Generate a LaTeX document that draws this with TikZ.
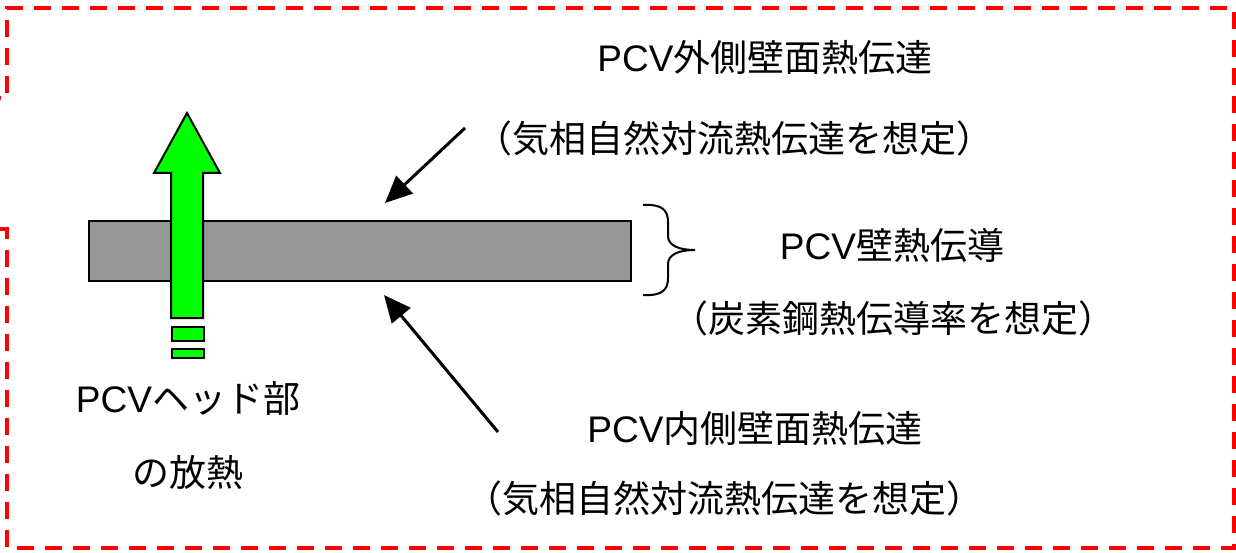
\documentclass[tikz,border=0pt]{standalone}
\usepackage{fontspec}
\setmainfont{Noto Sans CJK JP}
\newfontfamily\lat{Liberation Sans}
\usetikzlibrary{arrows.meta}
\definecolor{brgreen}{RGB}{0,255,0}
\definecolor{bargray}{RGB}{150,150,150}
\tikzset{
  lbl/.style={inner sep=0pt, font=\fontsize{37}{40}\selectfont},
  redframe/.style={draw=red, line width=3.6pt, dash pattern=on 17pt off 11pt},
  heatarrow/.style={line width=3pt, -{Triangle[length=27pt,width=24pt]}},
  outline/.style={draw=black, line width=2pt}
}
\begin{document}
\begin{tikzpicture}[x=1pt,y=-1pt]
\useasboundingbox (0,0) rectangle (1236,553);
% red dashed frame
\draw[redframe] (0,229) -- (7,229) -- (7,548) -- (1234,548) -- (1234,8) -- (7,8) -- (7,98) -- (0,98);
% PCV wall
\node[outline, fill=bargray, minimum width=542pt, minimum height=60pt, inner sep=0pt, anchor=north west] (wall) at (88,220) {};
% green heat arrow
\filldraw[fill=brgreen, draw=black, line width=2pt] (171,318) -- (171,173) -- (154,173) -- (187,113) -- (220,173) -- (203,173) -- (203,318) -- cycle;
\node[outline, fill=brgreen, minimum width=32pt, minimum height=14pt, inner sep=0pt, anchor=north west] (g1) at (171,326) {};
\node[outline, fill=brgreen, minimum width=32pt, minimum height=9pt, inner sep=0pt, anchor=north west] (g2) at (171,348) {};
% brace
\draw[line width=2pt] (643,205) .. controls (662,204) and (668,210) .. (668,222) -- (668,236) .. controls (668,246) and (680,250) .. (695,250)
  .. controls (680,250) and (668,254) .. (668,264) -- (668,278) .. controls (668,290) and (662,296) .. (643,295);
% labels
\node[lbl] (t1) at (765,57) {{\lat PCV}外側壁面熱伝達};
\node[lbl] (t2) at (734,138) {（気相自然対流熱伝達を想定）};
\node[lbl] (t3) at (892,245) {{\lat PCV}壁熱伝導};
\node[lbl] (t4) at (893,318) {（炭素鋼熱伝導率を想定）};
\node[lbl] (t5) at (755,428) {{\lat PCV}内側壁面熱伝達};
\node[lbl] (t6) at (724,498) {（気相自然対流熱伝達を想定）};
\node[lbl] (t7) at (188,399) {{\lat PCV}ヘッド部};
\node[lbl] (t8) at (188,472) {の放熱};
% arrows
\coordinate (a1s) at (465,128);
\coordinate (a1e) at (385,203);
\coordinate (a2s) at (498,432);
\coordinate (a2e) at (384,295);
\draw[heatarrow] (a1s) -- (a1e);
\draw[heatarrow] (a2s) -- (a2e);
\end{tikzpicture}
\end{document}
